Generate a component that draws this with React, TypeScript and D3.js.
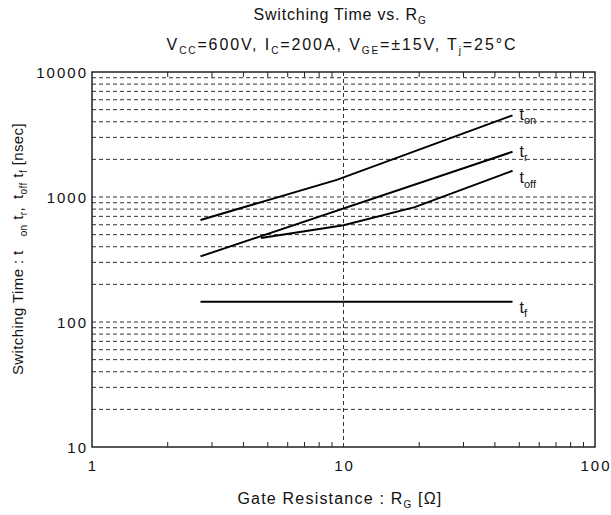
import React from 'react';
import * as d3 from 'd3';

const W = 611;
const H = 515;

// Data
const xDomain: [number, number] = [1, 100];
const yDomain: [number, number] = [10, 10000];
const xTickLabels = [1, 10, 100];
const yTickLabels = [10, 100, 1000, 10000];

const tOnRg = [2.7, 9.4, 47];
const tOnNs = [655, 1370, 4500];
const tRRg = [2.7, 47];
const tRNs = [335, 2300];
const tOffRg = [4.7, 10, 19.2, 47];
const tOffNs = [470, 595, 830, 1620];
const tFRg = [2.7, 47];
const tFNs = [145, 145];

const seriesNames = ['on', 'r', 'off', 'f'];

const FONT = '"Liberation Sans", Arial, sans-serif';

export default function App() {
  const left = 92, right = 595, top = 72, bottom = 447;
  const x = d3.scaleLog().domain(xDomain).range([left, right]);
  const y = d3.scaleLog().domain(yDomain).range([bottom, top]);

  const series = [
    { name: seriesNames[0], pts: tOnRg.map((r, i) => [r, tOnNs[i]] as [number, number]), dy: 5, sdy: 4 },
    { name: seriesNames[1], pts: tRRg.map((r, i) => [r, tRNs[i]] as [number, number]), dy: 5, sdy: 4 },
    { name: seriesNames[2], pts: tOffRg.map((r, i) => [r, tOffNs[i]] as [number, number]), dy: 12, sdy: 5 },
    { name: seriesNames[3], pts: tFRg.map((r, i) => [r, tFNs[i]] as [number, number]), dy: 11, sdy: 4 },
  ];

  const line = d3.line<[number, number]>().x(d => x(d[0])).y(d => y(d[1]));

  const gridY: number[] = [];
  [10, 100, 1000].forEach(dec => {
    for (let k = 1; k <= 9; k++) {
      const v = dec * k;
      if (v > 10) gridY.push(v);
    }
  });
  const minorX: number[] = [];
  [1, 10].forEach(dec => {
    for (let k = 2; k <= 9; k++) minorX.push(dec * k);
  });

  const gridColor = '#333';

  return (
    <svg width={W} height={H} style={{ position: 'absolute', left: 0, top: 0, background: '#fff' }} fontFamily={FONT}>
      <rect x={0} y={0} width={W} height={H} fill="#fff" />
      {/* Title */}
      <text x={340} y={20} textAnchor="middle" fontSize={16} letterSpacing={0.8} fill="#111">
        Switching Time vs. R<tspan fontSize={10} dy={4}>G</tspan>
      </text>
      <text x={342} y={50} textAnchor="middle" fontSize={16} letterSpacing={1.9} fill="#111">
        V<tspan fontSize={10} dy={4}>CC</tspan><tspan dy={-4}>=600V, I</tspan>
        <tspan fontSize={10} dy={4}>C</tspan><tspan dy={-4}>=200A, V</tspan>
        <tspan fontSize={10} dy={4}>GE</tspan><tspan dy={-4}>=±15V, T</tspan>
        <tspan fontSize={10} dy={4}>j</tspan><tspan dy={-4}>=25°C</tspan>
      </text>

      {/* horizontal dashed grid */}
      {gridY.map(v => (
        <line key={'gy' + v} x1={left} x2={right} y1={y(v)} y2={y(v)} stroke={gridColor} strokeWidth={1} strokeDasharray="4,3" />
      ))}
      {/* vertical dashed at 10 */}
      <line x1={x(10)} x2={x(10)} y1={top} y2={bottom} stroke={gridColor} strokeWidth={1} strokeDasharray="4,3" />

      {/* minor x ticks */}
      {minorX.map(v => (
        <g key={'mx' + v}>
          <line x1={x(v)} x2={x(v)} y1={bottom} y2={bottom - 5} stroke="#222" strokeWidth={1} />
          <line x1={x(v)} x2={x(v)} y1={top} y2={top + 5} stroke="#222" strokeWidth={1} />
        </g>
      ))}

      {/* frame */}
      <rect x={left} y={top} width={right - left} height={bottom - top} fill="none" stroke="#222" strokeWidth={1.5} />

      {/* y tick labels */}
      {yTickLabels.map(v => (
        <text key={'yl' + v} x={left - 4} y={y(v) + 6} textAnchor="end" fontSize={15} letterSpacing={2} fill="#111">
          {String(v)}
        </text>
      ))}
      {/* x tick labels */}
      {xTickLabels.map(v => (
        <text key={'xl' + v} x={x(v) + 1} y={bottom + 24} textAnchor="middle" fontSize={15} letterSpacing={2} fill="#111">
          {String(v)}
        </text>
      ))}

      {/* series */}
      {series.map(s => (
        <path key={s.name} d={line(s.pts) || ''} fill="none" stroke="#000" strokeWidth={2} />
      ))}
      {series.map(s => {
        const last = s.pts[s.pts.length - 1];
        return (
          <text key={'lab' + s.name} x={x(last[0]) + 7} y={y(last[1]) + s.dy} fontSize={16} fill="#111">
            t<tspan fontSize={11} dy={s.sdy}>{s.name}</tspan>
          </text>
        );
      })}

      {/* x axis title */}
      <text x={340} y={504} textAnchor="middle" fontSize={16} letterSpacing={1.2} fill="#111">
        Gate Resistance : R<tspan fontSize={10} dy={4}>G</tspan><tspan dy={-4}> [Ω]</tspan>
      </text>

      {/* y axis title */}
      <text transform="translate(23,249) rotate(-90)" textAnchor="middle" fontSize={15} letterSpacing={0.4} fill="#111">
        Switching Time : t<tspan dx={14} fontSize={10} dy={4}>on</tspan>
        <tspan dy={-4}> t</tspan><tspan fontSize={10} dy={4}>r</tspan><tspan dy={-4}>,</tspan>
        <tspan dx={8}>t</tspan><tspan fontSize={10} dy={4}>off</tspan>
        <tspan dy={-4}> t</tspan><tspan fontSize={10} dy={4}>f</tspan>
        <tspan dy={-4}> [nsec]</tspan>
      </text>
    </svg>
  );
}
